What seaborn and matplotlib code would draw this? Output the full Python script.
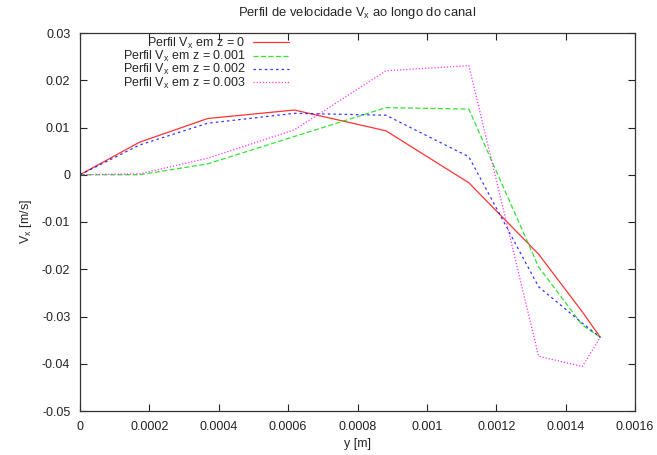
import matplotlib
matplotlib.use("Agg")
import matplotlib.pyplot as plt
import seaborn as sns
import pandas as pd

y_pos = [0, 0.000172, 0.000368, 0.000618, 0.000882, 0.001121, 0.001322, 0.001448, 0.0015]
vx_z0 = [0, 0.0069, 0.0119, 0.0137, 0.0093, -0.0017, -0.0168, -0.0290, -0.0344]
vx_z001 = [0, 0.0000, 0.0023, 0.0081, 0.0142, 0.0139, -0.0195, -0.0318, -0.0344]
vx_z002 = [0, 0.0063, 0.0109, 0.0130, 0.0126, 0.0038, -0.0237, -0.0314, -0.0344]
vx_z003 = [0, 0.0002, 0.0035, 0.0095, 0.0220, 0.0231, -0.0384, -0.0406, -0.0344]
labels = [r"Perfil V$_\mathregular{x}$ em z = 0",
          r"Perfil V$_\mathregular{x}$ em z = 0.001",
          r"Perfil V$_\mathregular{x}$ em z = 0.002",
          r"Perfil V$_\mathregular{x}$ em z = 0.003"]
series = [vx_z0, vx_z001, vx_z002, vx_z003]
colors = ["#ff0000", "#00dd00", "#0000ff", "#ff00ff"]
dashes = [None, (4, 2), (2, 2.5), (1, 1.5)]

sns.set_style("ticks")
plt.rcParams["font.family"] = ["Liberation Sans", "DejaVu Sans"]
plt.rcParams["mathtext.fontset"] = "custom"
plt.rcParams["mathtext.rm"] = "Liberation Sans"
plt.rcParams["mathtext.it"] = "Liberation Sans"

fig = plt.figure(figsize=(6.57, 4.55), dpi=100)
ax = fig.add_axes([80/657, 1-411/455, (635-80)/657, (411-33)/455])

for lab, vals, c, d in zip(labels, series, colors, dashes):
    df = pd.DataFrame({"y": y_pos, "vx": vals})
    sns.lineplot(data=df, x="y", y="vx", ax=ax, color=c, lw=0.9,
                 label=lab, alpha=0.8, sort=False)
    l = ax.get_lines()[-1]
    if d is not None:
        l.set_dashes(d)

ax.set_xlim(0, 0.0016)
ax.set_ylim(-0.05, 0.03)
ax.set_xticks([i*0.0002 for i in range(9)])
ax.set_xticklabels(["0", "0.0002", "0.0004", "0.0006", "0.0008", "0.001", "0.0012", "0.0014", "0.0016"])
ax.set_yticks([0.03, 0.02, 0.01, 0, -0.01, -0.02, -0.03, -0.04, -0.05])
ax.set_yticklabels(["0.03", "0.02", "0.01", "0", "-0.01", "-0.02", "-0.03", "-0.04", "-0.05"])
ax.tick_params(direction="in", top=True, right=True, length=5, width=0.8,
               labelsize=9, colors="#222222", pad=7)
for s in ax.spines.values():
    s.set_color("#333333")
    s.set_linewidth(0.9)

ax.set_xlabel("y [m]", fontsize=9, labelpad=4)
ax.set_ylabel(r"V$_\mathregular{x}$ [m/s]", fontsize=9, labelpad=6)
ax.set_title(r"Perfil de velocidade V$_\mathregular{x}$ ao longo do canal", fontsize=9.4, pad=12)

leg = ax.legend(loc="upper right", bbox_to_anchor=((294-80)/555, 1.006), frameon=False,
                markerfirst=False, fontsize=9, handlelength=2.85, labelspacing=-0.15,
                handletextpad=0.65, borderaxespad=0)

fig.savefig("out.png", dpi=100)
